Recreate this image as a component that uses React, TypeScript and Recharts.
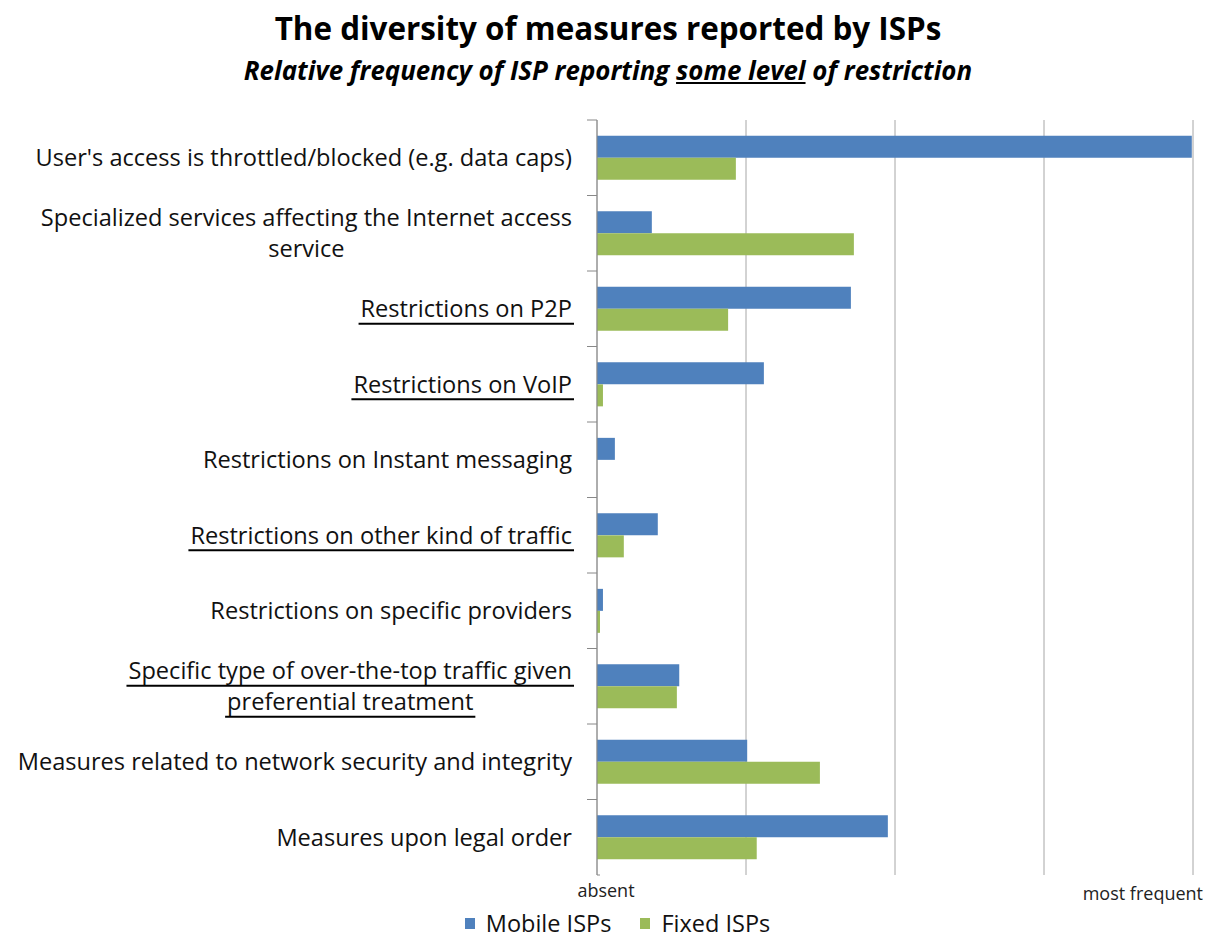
import { BarChart, Bar, XAxis, YAxis, CartesianGrid, Legend } from "recharts";

const categories = [
  "User's access is throttled/blocked (e.g. data caps)",
  "Specialized services affecting the Internet access\nservice",
  "Restrictions on P2P",
  "Restrictions on VoIP",
  "Restrictions on Instant messaging",
  "Restrictions on other kind of traffic",
  "Restrictions on specific providers",
  "Specific type of over-the-top traffic given\npreferential treatment",
  "Measures related to network security and integrity",
  "Measures upon legal order",
];
const underlined = [false, false, true, true, false, true, false, true, false, false];
const mobileISPs = [99.8, 9.2, 42.6, 28, 3, 10.2, 1, 13.8, 25.2, 48.8];
const fixedISPs = [23.3, 43.1, 22, 1, 0, 4.5, 0.5, 13.4, 37.4, 26.8];
const xTicks = [0, 25, 50, 75, 100];
const xTickLabels = ["absent", "", "", "", "most frequent"];

const data = categories.map((name, i) => ({
  name,
  mobile: mobileISPs[i],
  fixed: fixedISPs[i],
}));

const FONT = "'Open Sans', sans-serif";
const BLUE = "#4f81bd";
const GREEN = "#9bbb59";
const PLOT_TOP = 120;
const PLOT_BOTTOM = 875;
const BAND = (PLOT_BOTTOM - PLOT_TOP) / categories.length;
const LABEL_SIZE = 23.6;

let ctx: CanvasRenderingContext2D | null = null;
function textWidth(s: string, font: string) {
  if (!ctx) ctx = document.createElement("canvas").getContext("2d");
  if (!ctx) return s.length * 10;
  ctx.font = font;
  return ctx.measureText(s).width;
}

function CategoryTick(props: any) {
  const { x, y, payload, index } = props;
  const lines = String(payload.value).split("\n");
  const isUnder = underlined[index];
  const lineH = 31;
  const widths = lines.map((l) => textWidth(l, `${LABEL_SIZE}px 'Open Sans'`));
  const maxW = Math.max(...widths);
  const multi = lines.length > 1;
  const cx = x - maxW / 2;
  const y0 = y - ((lines.length - 1) * lineH) / 2;
  const axisX = x + 25;
  return (
    <g>
      <line x1={axisX - 10} x2={axisX} y1={y - BAND / 2} y2={y - BAND / 2} stroke="#888" />
      {index === categories.length - 1 && (
        <line x1={axisX} x2={axisX + 3} y1={y + BAND / 2} y2={y + BAND / 2} stroke="#888" />
      )}
      {lines.map((l, i) => {
        const right = multi ? cx + widths[i] / 2 : x;
        return (
          <g key={i}>
            <text
              x={multi ? cx : x}
              y={y0 + i * lineH}
              dy="0.35em"
              textAnchor={multi ? "middle" : "end"}
              fontSize={LABEL_SIZE}
              fontFamily={FONT}
              fill="#111"
            >
              {l}
            </text>
            {isUnder && (
              <line
                x1={right - widths[i] - 2}
                x2={right + 2}
                y1={y0 + i * lineH + 15}
                y2={y0 + i * lineH + 15}
                stroke="#000"
                strokeWidth={2}
              />
            )}
          </g>
        );
      })}
    </g>
  );
}

function ValueTick(props: any) {
  const { x, y, index } = props;
  const label = xTickLabels[index];
  if (!label) return null;
  const last = index === xTicks.length - 1;
  return (
    <text
      x={last ? x + 10 : x + 9}
      y={last ? y + 4 : y + 1}
      dy="0.71em"
      textAnchor={last ? "end" : "middle"}
      fontSize={18}
      fontFamily={FONT}
      fill="#222"
    >
      {label}
    </text>
  );
}

function EmptyTick() {
  return <g />;
}

function LegendContent() {
  const items = [
    { label: "Mobile ISPs", color: BLUE },
    { label: "Fixed ISPs", color: GREEN },
  ];
  return (
    <div
      style={{
        display: "flex",
        justifyContent: "center",
        gap: 29,
        paddingLeft: 42,
        paddingTop: 17,
        fontFamily: FONT,
        fontSize: 23.5,
        lineHeight: "26px",
        color: "#111",
      }}
    >
      {items.map((it) => (
        <div key={it.label} style={{ display: "flex", alignItems: "center" }}>
          <span
            style={{
              display: "inline-block",
              width: 10,
              height: 11,
              background: it.color,
              marginRight: 11,
            }}
          />
          {it.label}
        </div>
      ))}
    </div>
  );
}

export default function App() {
  return (
    <div
      style={{
        position: "absolute",
        left: 0,
        top: 0,
        width: 1216,
        height: 939,
        background: "#fff",
      }}
    >
      <div
        style={{
          position: "absolute",
          top: 6,
          left: 0,
          width: 1216,
          textAlign: "center",
          fontFamily: FONT,
          fontWeight: 700,
          fontSize: 31.4,
          color: "#000",
        }}
      >
        The diversity of measures reported by ISPs
      </div>
      <div
        style={{
          position: "absolute",
          top: 52,
          left: 0,
          width: 1216,
          textAlign: "center",
          fontFamily: FONT,
          fontWeight: 700,
          fontStyle: "italic",
          fontSize: 25.9,
          color: "#000",
        }}
      >
        Relative frequency of ISP reporting{" "}
        <span style={{ textDecoration: "underline" }}>some level</span> of restriction
      </div>

      <BarChart
        width={1216}
        height={939}
        data={data}
        layout="vertical"
        margin={{ top: PLOT_TOP, right: 23, left: 0, bottom: 0 }}
        barCategoryGap="21%"
        barGap={0}
      >
        <CartesianGrid horizontal={false} vertical stroke="#a6a6a6" />
        <XAxis
          type="number"
          domain={[0, 100]}
          ticks={xTicks}
          interval={0}
          height={18}
          axisLine={false}
          tickLine={false}
          tick={<ValueTick />}
        />
        <XAxis
          xAxisId="top"
          orientation="top"
          type="number"
          domain={[0, 100]}
          ticks={xTicks}
          height={0}
          axisLine={{ stroke: "#a6a6a6" }}
          tickLine={{ stroke: "#a6a6a6" }}
          tickSize={8}
          tick={<EmptyTick />}
        />
        <YAxis
          type="category"
          dataKey="name"
          width={597}
          interval={0}
          tickLine={false}
          tickSize={0}
          tickMargin={25}
          axisLine={{ stroke: "#888" }}
          tick={<CategoryTick />}
        />
        <Legend verticalAlign="bottom" height={46} content={<LegendContent />} />
        <Bar dataKey="mobile" name="Mobile ISPs" fill={BLUE} isAnimationActive={false} />
        <Bar dataKey="fixed" name="Fixed ISPs" fill={GREEN} isAnimationActive={false} />
      </BarChart>
    </div>
  );
}
